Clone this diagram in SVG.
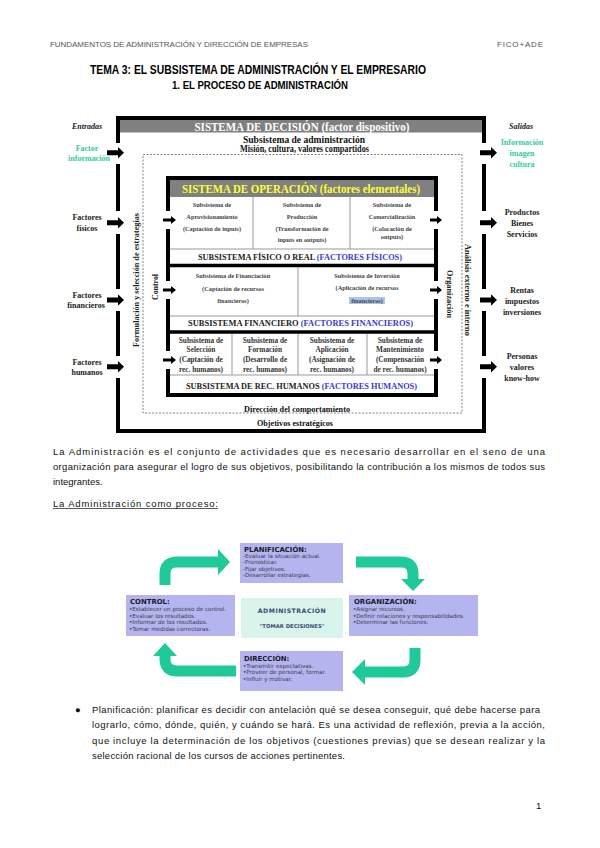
<svg xmlns="http://www.w3.org/2000/svg" width="600" height="848" viewBox="0 0 600 848">
<style>
.hdr{font-family:"Liberation Sans",Arial,sans-serif;font-size:8px;fill:#555}
.ttl{font-family:"Liberation Sans",Arial,sans-serif;font-weight:bold;fill:#000}
.body{font-family:"Liberation Sans",Arial,sans-serif;font-size:9.5px;fill:#111}
.sf{font-family:"Liberation Serif","Times New Roman",serif;font-weight:bold}
.lbl{font-family:"Liberation Serif","Times New Roman",serif;font-weight:bold;font-size:8px;fill:#222;text-anchor:middle}
.teal{fill:#33cc99}
.blue{fill:#3a3acc}
.r1{font-family:"Liberation Serif","Times New Roman",serif;font-weight:bold;font-size:6.3px;fill:#444;text-anchor:middle}
.r3{font-family:"Liberation Serif","Times New Roman",serif;font-weight:bold;font-size:7.3px;fill:#333;text-anchor:middle}
.band{font-family:"Liberation Serif","Times New Roman",serif;font-weight:bold;font-size:8px;fill:#222;text-anchor:middle}
.thk{stroke:#000;stroke-width:4;fill:none}
.thin{stroke:#999;stroke-width:1;fill:none}
.blk{stroke:#000;stroke-width:3.5;fill:none}
.pbox{fill:#b4b4ef}
.ptitle{font-family:"DejaVu Sans",Verdana,sans-serif;font-weight:bold;font-size:6.9px;fill:#1a1a2a}
.pitem{font-family:"DejaVu Sans",Verdana,sans-serif;font-size:5.6px;fill:#3a3a4a}
.parr{fill:none;stroke:#1fc99a;stroke-width:11}
.ahead{fill:#1fc99a}
</style>

<!-- page header -->
<text class="hdr" x="50" y="47" textLength="258" lengthAdjust="spacing">FUNDAMENTOS DE ADMINISTRACIÓN Y DIRECCIÓN DE EMPRESAS</text>
<text class="hdr" x="497" y="47" textLength="46" lengthAdjust="spacing">FICO+ADE</text>
<text class="ttl" x="90" y="73.5" font-size="12.5" textLength="336" lengthAdjust="spacingAndGlyphs">TEMA 3: EL SUBSISTEMA DE ADMINISTRACIÓN Y EL EMPRESARIO</text>
<text class="ttl" x="172" y="89" font-size="10.5" textLength="176" lengthAdjust="spacingAndGlyphs">1. EL PROCESO DE ADMINISTRACIÓN</text>

<!-- ===== Administration system diagram ===== -->
<g id="sistema-decision">
  <rect x="120" y="120" width="362" height="12.5" fill="#808080"/>
  <text class="sf" x="302" y="130.5" font-size="12" fill="#fff" text-anchor="middle" textLength="215" lengthAdjust="spacingAndGlyphs">SISTEMA DE DECISIÓN (factor dispositivo)</text>
  <path class="thk" d="M118,143 V118 H484 V143 M118,164 V211 M484,164 V211 M118,234 V289 M484,234 V289 M118,311 V356 M484,311 V356 M118,378 V431 H484 V378"/>
  <text class="sf" x="304" y="142.5" font-size="9.5" fill="#111" text-anchor="middle" textLength="122" lengthAdjust="spacingAndGlyphs">Subsistema de administración</text>
  <text class="sf" x="304.5" y="151.5" font-size="9.5" fill="#111" text-anchor="middle" textLength="129" lengthAdjust="spacingAndGlyphs">Misión, cultura, valores compartidos</text>
  <rect x="143" y="154.5" width="319" height="258.5" fill="none" stroke="#666" stroke-width="0.8" stroke-dasharray="2,1.5"/>
  <text class="sf" x="297" y="411.5" font-size="8.5" fill="#111" text-anchor="middle" textLength="106" lengthAdjust="spacingAndGlyphs">Dirección del comportamiento</text>
  <text class="sf" x="295" y="426" font-size="8.5" fill="#111" text-anchor="middle" textLength="76" lengthAdjust="spacingAndGlyphs">Objetivos estratégicos</text>
  <text class="sf" font-size="8" fill="#222" text-anchor="middle" transform="translate(138.5,280) rotate(-90)" textLength="134" lengthAdjust="spacingAndGlyphs">Formulación y selección de estrategias</text>
  <text class="sf" font-size="8.5" fill="#222" text-anchor="middle" transform="translate(157.5,287) rotate(-90)" textLength="26" lengthAdjust="spacingAndGlyphs">Control</text>
  <text class="sf" font-size="8" fill="#222" text-anchor="middle" transform="translate(447,294) rotate(90)" textLength="48" lengthAdjust="spacingAndGlyphs">Organización</text>
  <text class="sf" font-size="8" fill="#222" text-anchor="middle" transform="translate(465,290) rotate(90)" textLength="92" lengthAdjust="spacingAndGlyphs">Análisis externo e interno</text>
</g>

<g id="entradas">
  <text class="lbl" x="87" y="129" font-style="italic">Entradas</text>
  <text class="lbl teal" x="87" y="151">Factor</text>
  <text class="lbl teal" x="89" y="161">información</text>
  <text class="lbl" x="87" y="220">Factores</text>
  <text class="lbl" x="87" y="231">físicos</text>
  <text class="lbl" x="87" y="298">Factores</text>
  <text class="lbl" x="86" y="308">financieros</text>
  <text class="lbl" x="87" y="365">Factores</text>
  <text class="lbl" x="87" y="375">humanos</text>
</g>

<g id="salidas">
  <text class="lbl" x="521" y="129" font-style="italic">Salidas</text>
  <text class="lbl teal" x="522" y="145">Información</text>
  <text class="lbl teal" x="522" y="156">imagen</text>
  <text class="lbl teal" x="522" y="167">cultura</text>
  <text class="lbl" x="522" y="215">Productos</text>
  <text class="lbl" x="522" y="226">Bienes</text>
  <text class="lbl" x="522" y="237">Servicios</text>
  <text class="lbl" x="522" y="293">Rentas</text>
  <text class="lbl" x="522" y="304">impuestos</text>
  <text class="lbl" x="522" y="315">inversiones</text>
  <text class="lbl" x="522" y="359">Personas</text>
  <text class="lbl" x="522" y="370">valores</text>
  <text class="lbl" x="522" y="381">know-how</text>
</g>

<g id="sistema-operacion">
  <rect x="170" y="180" width="264" height="17" fill="#808080"/>
  <text class="sf" x="301" y="192.5" font-size="12" fill="#ffff33" text-anchor="middle" textLength="238" lengthAdjust="spacingAndGlyphs">SISTEMA DE OPERACIÓN (factores elementales)</text>
  <path class="thk" d="M168,211 V178 H436 V211 M168,229 V281 M436,229 V281 M168,299 V351 M436,299 V351 M168,369 V395 H436 V369"/>
  <!-- physical row -->
  <path class="thin" d="M253,197 V249 M350,197 V249 M170,249 H434"/>
  <text class="r1" x="212" y="207">Subsistema de</text>
  <text class="r1" x="212" y="219">Aprovisionamiento</text>
  <text class="r1" x="212" y="230.5">(Captación de inputs)</text>
  <text class="r1" x="302" y="207">Subsistema de</text>
  <text class="r1" x="302" y="219">Producción</text>
  <text class="r1" x="302" y="230.5">(Transformación de</text>
  <text class="r1" x="302" y="242">inputs en outputs)</text>
  <text class="r1" x="392" y="207">Subsistema de</text>
  <text class="r1" x="392" y="219">Comercialización</text>
  <text class="r1" x="392" y="230.5">(Colocación de</text>
  <text class="r1" x="392" y="239">outputs)</text>
  <text class="band" x="300" y="260" textLength="204" lengthAdjust="spacingAndGlyphs">SUBSISTEMA FÍSICO O REAL <tspan class="blue">(FACTORES  FÍSICOS)</tspan></text>
  <path class="blk" d="M168,265.5 H436"/>
  <!-- financial row -->
  <path class="thin" d="M298,267 V316 M170,316 H434"/>
  <text class="r1" x="233" y="278">Subsistema de  Financiación</text>
  <text class="r1" x="233" y="290.5">(Captación de recursos</text>
  <text class="r1" x="233" y="303">financieros)</text>
  <text class="r1" x="367" y="277.5">Subsistema de  Inversión</text>
  <text class="r1" x="367" y="290">(Aplicación  de recursos</text>
  <rect x="349" y="297" width="36" height="7" fill="#a9c6ea"/>
  <text class="r1" x="367" y="302.5">financieros)</text>
  <text class="band" x="300.5" y="326" textLength="225" lengthAdjust="spacingAndGlyphs">SUBSISTEMA FINANCIERO   <tspan class="blue">(FACTORES  FINANCIEROS)</tspan></text>
  <path class="blk" d="M168,332 H436"/>
  <!-- human resources row -->
  <path class="thin" d="M232,334 V375 M298,334 V375 M367,334 V375 M170,375 H434"/>
  <text class="r3" x="201" y="342.5">Subsistema de</text>
  <text class="r3" x="201" y="352">Selección</text>
  <text class="r3" x="201" y="361.5">(Captación de</text>
  <text class="r3" x="201" y="371.5">rec. humanos)</text>
  <text class="r3" x="265" y="342.5">Subsistema de</text>
  <text class="r3" x="265" y="352">Formación</text>
  <text class="r3" x="265" y="361.5">(Desarrollo de</text>
  <text class="r3" x="265" y="371.5">rec. humanos)</text>
  <text class="r3" x="332" y="342.5">Subsistema de</text>
  <text class="r3" x="332" y="352">Aplicación</text>
  <text class="r3" x="332" y="361.5">(Asignación de</text>
  <text class="r3" x="332" y="371.5">rec.  humanos)</text>
  <text class="r3" x="400" y="342.5">Subsistema de</text>
  <text class="r3" x="400" y="352">Mantenimiento</text>
  <text class="r3" x="400" y="361.5">(Compensación</text>
  <text class="r3" x="400" y="371.5">de rec. humanos)</text>
  <text class="band" x="301.5" y="388.5" textLength="231" lengthAdjust="spacingAndGlyphs">SUBSISTEMA DE REC. HUMANOS  <tspan class="blue">(FACTORES HUMANOS)</tspan></text>
</g>

<g id="flechas-sistema" fill="#000">
  <!-- outer left inputs -->
  <path d="M107,150.2 H118 V147 L124,152.7 L118,158.4 V155.2 H107 Z"/>
  <path d="M107,220.2 H118 V217 L124,222.7 L118,228.4 V225.2 H107 Z"/>
  <path d="M107,297.5 H118 V294.3 L124,300 L118,305.7 V302.5 H107 Z"/>
  <path d="M107,364.2 H118 V361 L124,366.7 L118,372.4 V369.2 H107 Z"/>
  <!-- outer right outputs -->
  <path d="M480,150.2 H491 V147 L497,152.7 L491,158.4 V155.2 H480 Z"/>
  <path d="M480,220.2 H491 V217 L497,222.7 L491,228.4 V225.2 H480 Z"/>
  <path d="M480,297.5 H491 V294.3 L497,300 L491,305.7 V302.5 H480 Z"/>
  <path d="M480,364.2 H491 V361 L497,366.7 L491,372.4 V369.2 H480 Z"/>
  <!-- operation box left -->
  <path d="M163,218.5 H171 V216 L176,220 L171,224 V221.5 H163 Z"/>
  <path d="M163,288.5 H171 V286 L176,290 L171,294 V291.5 H163 Z"/>
  <path d="M163,358.5 H171 V356 L176,360 L171,364 V361.5 H163 Z"/>
  <!-- operation box right -->
  <path d="M430,218.5 H437 V216 L442,220 L437,224 V221.5 H430 Z"/>
  <path d="M430,288.5 H437 V286 L442,290 L437,294 V291.5 H430 Z"/>
  <path d="M430,358.5 H437 V356 L442,360 L437,364 V361.5 H430 Z"/>
</g>

<!-- ===== paragraph ===== -->
<text class="body" x="53" y="454.5" textLength="492" lengthAdjust="spacing">La Administración es el conjunto de actividades que es necesario desarrollar en el seno de una</text>
<text class="body" x="53" y="469.5" textLength="492" lengthAdjust="spacing">organización para asegurar el logro de sus objetivos, posibilitando la contribución a los mismos de todos sus</text>
<text class="body" x="53" y="484.5">integrantes.</text>
<text class="body" x="53" y="506.5" textLength="165" lengthAdjust="spacing">La Administración como proceso:</text>
<line x1="53" y1="508.5" x2="218" y2="508.5" stroke="#111" stroke-width="0.7"/>

<!-- ===== process diagram ===== -->
<g id="flechas-proceso">
  <path class="parr" d="M165,585 V574 Q165,562 177,562 H219"/>
  <polygon class="ahead" points="218,549 230,562 218,575"/>
  <path class="parr" d="M356,562 H401 Q413,562 413,574 V580"/>
  <polygon class="ahead" points="401,579 425,579 413,591"/>
  <path class="parr" d="M415,648 V660 Q415,672 403,672 H364"/>
  <polygon class="ahead" points="365,659 352,672 365,685"/>
  <path class="parr" d="M236,671 H177 Q165,671 165,659 V655"/>
  <polygon class="ahead" points="153,656 177,656 165,643"/>
</g>

<g id="planificacion">
  <rect class="pbox" x="240" y="543" width="103" height="40"/>
  <text class="ptitle" x="244" y="551.5">PLANIFICACIÓN:</text>
  <text class="pitem" x="243" y="557.5">-Evaluar la situación actual.</text>
  <text class="pitem" x="243" y="564">-Pronosticar.</text>
  <text class="pitem" x="243" y="570.5">-Fijar objetivos.</text>
  <text class="pitem" x="243" y="577">-Desarrollar estrategias.</text>
</g>
<g id="control">
  <rect class="pbox" x="126" y="595" width="109" height="41"/>
  <text class="ptitle" x="130" y="604">CONTROL:</text>
  <text class="pitem" x="129" y="611">•Establecer un proceso de control.</text>
  <text class="pitem" x="129" y="617.5">•Evaluar los resultados.</text>
  <text class="pitem" x="129" y="624">•Informar de los resultados.</text>
  <text class="pitem" x="129" y="630.5">•Tomar medidas correctoras.</text>
</g>
<g id="administracion">
  <rect x="241" y="598" width="102" height="40" fill="#d9f4ea"/>
  <text x="292" y="612.5" font-family="DejaVu Sans, Verdana, sans-serif" font-weight="bold" font-size="6.2" fill="#3a4a78" text-anchor="middle" letter-spacing="0.5">ADMINISTRACIÓN</text>
  <text x="292" y="628" font-family="DejaVu Sans, Verdana, sans-serif" font-weight="bold" font-size="5.3" fill="#3a4a78" text-anchor="middle">"TOMAR DECISIONES"</text>
</g>
<g id="organizacion">
  <rect class="pbox" x="349" y="595" width="129" height="41"/>
  <text class="ptitle" x="354" y="604">ORGANIZACIÓN:</text>
  <text class="pitem" x="353" y="611">•Asignar recursos.</text>
  <text class="pitem" x="353" y="617.5">•Definir relaciones y responsabilidades.</text>
  <text class="pitem" x="353" y="624">•Determinar las funciones.</text>
</g>
<g id="direccion">
  <rect class="pbox" x="240" y="651" width="103" height="40"/>
  <text class="ptitle" x="244" y="660.5">DIRECCIÓN:</text>
  <text class="pitem" x="243" y="667.5">•Transmitir expectativas.</text>
  <text class="pitem" x="243" y="674">•Proveer de personal, formar.</text>
  <text class="pitem" x="243" y="680.5">•Influir y motivar.</text>
</g>

<!-- ===== bullet paragraph ===== -->
<text class="body" x="75" y="712.5" font-size="8">●</text>
<text class="body" x="92" y="712.5" textLength="448" lengthAdjust="spacing">Planificación: planificar es decidir con antelación  qué se desea conseguir, qué debe hacerse para</text>
<text class="body" x="92" y="728" textLength="453" lengthAdjust="spacing">lograrlo, cómo, dónde, quién, y cuándo se hará. Es una actividad de reflexión, previa a la acción,</text>
<text class="body" x="92" y="743.5" textLength="453" lengthAdjust="spacing">que incluye la determinación de los objetivos (cuestiones previas) que se desean realizar y la</text>
<text class="body" x="92" y="758.5" textLength="253" lengthAdjust="spacing">selección racional de los cursos de acciones pertinentes.</text>

<text class="body" x="536" y="808.5">1</text>
</svg>
